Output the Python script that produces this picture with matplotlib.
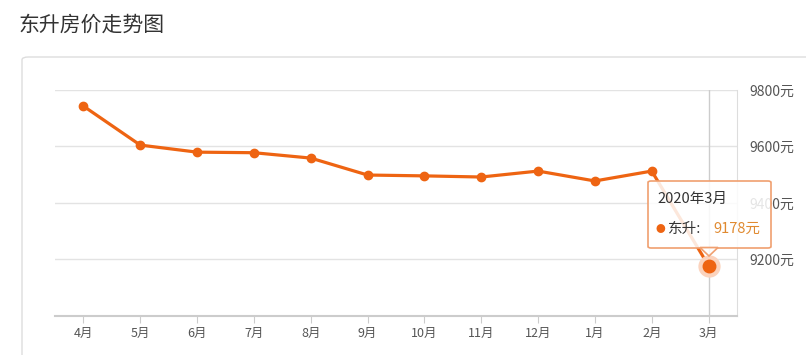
import matplotlib.pyplot as plt
from matplotlib.patches import FancyBboxPatch, Polygon

plt.rcParams['font.family'] = ['Noto Sans CJK SC', 'DejaVu Sans']

months = ['4月', '5月', '6月', '7月', '8月', '9月', '10月', '11月', '12月', '1月', '2月', '3月']
prices = [9743, 9605, 9580, 9578, 9559, 9499, 9496, 9492, 9513, 9478, 9513, 9178]
yticks = [9200, 9400, 9600, 9800]

W, H = 806, 355
fig = plt.figure(figsize=(W / 100, H / 100), dpi=100)


def fx(px):
    return px / W


def fy(py):
    return 1 - py / H


# title and card
fig.text(fx(19), fy(25), '东升房价走势图', fontsize=15, color='#333333', va='center', ha='left')
card = FancyBboxPatch((fx(22), fy(380)), fx(820) - fx(22), fy(57) - fy(380),
                      boxstyle='round,pad=0,rounding_size=0.008', transform=fig.transFigure,
                      facecolor='white', edgecolor='#dddddd', lw=1, zorder=-5)
fig.patches.append(card)

ax = fig.add_axes([fx(55), fy(316), fx(737) - fx(55), fy(90) - fy(316)])
ax.set_facecolor('none')
ax.set_zorder(1)
x = list(range(len(months)))
ax.set_xlim(-0.5, len(months) - 0.5)
ax.set_ylim(9000, 9800)

for v in yticks:
    ax.axhline(v, color='#e3e3e3', lw=1, zorder=1)
ax.axvline(11, color='#cccccc', lw=1, zorder=1)

ax.plot(x, prices, color='#ee6412', lw=2.3, marker='o', markersize=6, zorder=3)
ax.plot([11], [prices[-1]], 'o', color='#fbd3bd', markersize=15, zorder=4)
ax.plot([11], [prices[-1]], 'o', color='#ee6412', markersize=9, zorder=5)

for s in ['top', 'left']:
    ax.spines[s].set_visible(False)
ax.spines['right'].set_color('#dddddd')
ax.spines['bottom'].set_color('#cccccc')
ax.spines['bottom'].set_linewidth(1.5)

ax.set_xticks(x)
ax.set_xticklabels(months)
ax.tick_params(axis='x', colors='#cccccc', labelcolor='#555555', labelsize=9, length=5, pad=3)
ax.yaxis.tick_right()
ax.set_yticks(yticks)
ax.set_yticklabels([f'{v}元' for v in yticks])
ax.tick_params(axis='y', length=0, labelcolor='#555555', labelsize=10, pad=9)

# tooltip
tip = FancyBboxPatch((fx(648), fy(248)), fx(771) - fx(648), fy(181) - fy(248),
                     boxstyle='round,pad=0,rounding_size=0.004', transform=fig.transFigure,
                     facecolor=(1, 1, 1, 0.85), edgecolor='#f0a070', lw=1.2, zorder=10)
fig.patches.append(tip)
arrow = Polygon([(fx(700), fy(247.5)), (fx(709), fy(256)), (fx(718), fy(247.5))], closed=True,
                transform=fig.transFigure, facecolor=(1, 1, 1, 0.85), edgecolor='#f0a070', lw=1.2, zorder=10)
fig.patches.append(arrow)
fig.text(fx(657), fy(199), '2020年3月', fontsize=10.5, color='#333333', va='center', zorder=11)
fig.text(fx(655), fy(229), '●', fontsize=7, color='#ee6412', va='center', zorder=11)
fig.text(fx(668), fy(229), '东升:', fontsize=10.5, color='#333333', va='center', zorder=11)
fig.text(fx(713), fy(229), '9178元', fontsize=10.5, color='#e08a30', va='center', zorder=11)

fig.savefig('out.png', dpi=100)
